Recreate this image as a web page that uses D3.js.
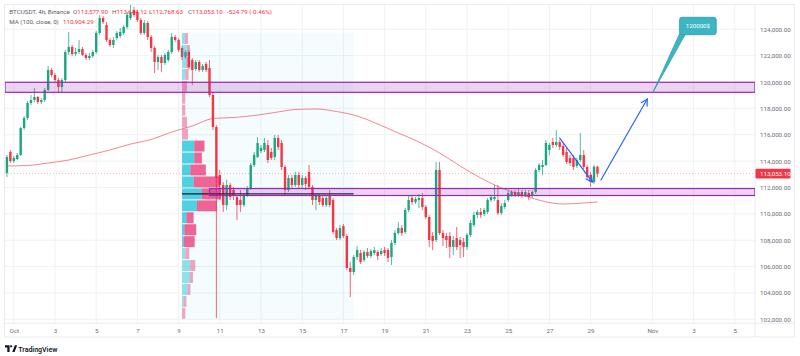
<!DOCTYPE html>
<html><head><meta charset="utf-8">
<script src="https://cdn.jsdelivr.net/npm/d3@7"></script>
<style>
html,body{margin:0;padding:0;background:#fff;}
svg{display:block;font-family:Roboto,"Noto Sans",sans-serif;}
</style></head><body>
<svg id="chart" width="800" height="356"></svg>
<script>
// ---------------- DATA ----------------
const firstBar = "2025-09-30T16:00:00Z";
const barHours = 4;
const opens = [113098,114691,114008,114160,114464,116512,117270,118409,118636,118864,
118484,118636,119395,120912,120533,120153,119622,120153,122278,122657,
122126,122278,122506,122050,121823,121974,122278,123719,124857,124326,
123188,122809,123340,123492,123719,124175,124857,125464,125313,124706,
123719,124478,123416,122581,121519,121899,121443,121671,122278,123416,
123188,122581,121899,122278,121671,120988,121519,120912,121367,121064,
119016,116588,112946,112187,110670,112187,111808,111277,111049,110670,
111428,111960,113705,114312,114767,114843,115222,114691,114312,115753,
115374,113553,111808,112718,112187,112946,112187,112718,113174,112036,
111049,111353,111201,110670,111353,111049,108773,108166,109077,108318,
105890,105587,106725,107028,106497,107104,106801,107028,107104,106952,
107256,107256,106725,107787,108546,108925,108621,110290,111201,110897,
111049,111201,110518,109759,108318,108014,113325,108546,108318,108318,
107483,108166,108014,107863,107483,108394,109152,109911,110139,109987,
110139,111049,111125,111049,110063,110518,111049,111428,111656,111428,
111656,111428,111580,111353,111656,113325,113553,113705,114843,115450,
115222,115450,115146,114691,114236,114236,113629,114084,114464,113553,
112946,112415,113577.9];
const highs = [114464,114843,114388,114615,116588,117422,118560,119016,119547,118940,
118788,119547,121216,121064,120685,120305,120305,122430,123795,122809,
122581,123188,122657,122202,122202,122430,123871,125085,125009,124554,
123340,123416,123871,124099,124326,125313,125844,125692,125464,124857,
124706,124630,123568,122733,122050,122050,122202,122430,123719,123568,
123340,122733,122430,122430,121823,121671,121671,121367,121519,121671,
119167,116740,113325,112415,112567,112339,112036,111428,111808,111580,
112112,113857,114691,115829,115222,115753,115601,114995,115981,115981,
115601,113705,112946,112946,113174,113174,112946,112870,113705,112187,
111580,111504,111353,111353,111808,111201,108925,109152,109228,108470,
106345,106876,107559,107256,107256,107408,107332,107483,107256,107408,
107483,107408,108014,108773,109380,109152,110442,111353,111428,111277,
111504,111580,110670,109911,108621,113932,113932,108773,108546,108621,
108318,109001,108242,108166,108546,109532,110139,110290,110442,110442,
111201,111428,112187,112187,110822,111049,111732,111808,111808,111884,
111808,111808,111808,111808,113477,113857,114084,115601,115374,115753,
116360,115601,115374,114995,114464,114464,114236,116133,114843,113705,
113174,113705,113644.12];
const lows = [112794,113857,113857,114084,114388,116360,117119,118257,118484,118333,
118333,118484,119319,120381,120002,119243,119243,120002,122050,121974,
121974,122126,121974,121671,121671,121823,122126,123568,124402,123037,
122657,122581,123188,123340,123568,124023,124706,124933,124554,123568,
123568,123188,122278,120685,120912,120761,121291,121519,122126,123037,
122278,121671,121747,120988,119774,120837,120761,120761,120761,118864,
116360,102096,111049,110139,110290,111049,111049,109532,110139,110518,
111277,111808,113553,114236,114615,114691,113857,114084,114084,114843,
113325,111428,111656,111960,112036,111960,111960,111808,111884,110670,
110290,110670,110518,110518,110518,108470,108014,108014,108166,105738,
103690,105359,106497,106194,106345,106649,106649,106876,106497,106801,
106801,106345,106118,107635,108394,108318,108470,110139,110670,110746,
110442,110290,109607,107483,107256,107863,108394,107559,107408,106649,
106876,107256,106649,106725,107256,108242,109001,109684,109684,109835,
109987,110897,110973,109911,109911,110366,110897,111277,111277,111277,
111201,111277,111049,111201,111504,113174,112946,113629,114464,114995,
115071,114843,114312,113781,113629,113325,113477,113932,113401,112642,
112036,112263,112768.63];
const closes = [114312,114008,114236,114464,116512,117270,118409,118636,118864,118484,
118636,119395,120912,120533,120153,119622,120153,122278,122657,122126,
122278,122506,122050,121823,121974,122278,123719,124857,124554,123188,
122809,123188,123719,123795,124175,125085,125313,125085,124706,123719,
124478,123416,122581,121519,121899,121443,122050,122278,123416,123188,
122430,121899,122278,121140,120912,121519,120912,121216,120912,119016,
116588,112718,112187,110670,112187,111277,111428,110670,110670,111428,
111960,113705,114464,115374,114995,115374,114084,114236,115753,115071,
113553,111808,112718,112187,112946,112187,112718,112263,112036,111049,
111353,110897,110670,111201,110670,108621,108166,108925,108318,105890,
105587,106725,107256,106345,107104,106801,107180,107256,106801,107180,
107028,106649,107787,108546,108925,108546,110290,111049,110897,111125,
111201,110518,109759,108014,107939,113325,108546,108166,108014,107483,
108014,107483,107635,107483,108394,109304,109911,110139,109911,110290,
111049,111277,111277,110063,110594,110822,111580,111656,111428,111656,
111353,111656,111277,111656,113325,113705,113705,115374,115222,115222,
115450,115071,114464,113932,113857,113553,114084,114464,113553,112794,
112415,113578,113053.1];

// MA(100, close) at daily points
const maDates = ["2025-09-30T16:00Z","2025-10-01T16:00Z","2025-10-02T16:00Z","2025-10-03T16:00Z","2025-10-04T16:00Z",
"2025-10-05T16:00Z","2025-10-06T16:00Z","2025-10-07T16:00Z","2025-10-08T16:00Z","2025-10-09T16:00Z",
"2025-10-10T16:00Z","2025-10-11T16:00Z","2025-10-12T16:00Z","2025-10-13T16:00Z","2025-10-14T16:00Z",
"2025-10-15T16:00Z","2025-10-16T16:00Z","2025-10-17T16:00Z","2025-10-18T16:00Z","2025-10-19T16:00Z",
"2025-10-20T16:00Z","2025-10-21T16:00Z","2025-10-22T16:00Z","2025-10-23T16:00Z","2025-10-24T16:00Z",
"2025-10-25T16:00Z","2025-10-26T16:00Z","2025-10-27T16:00Z","2025-10-28T16:00Z","2025-10-29T08:00Z"];
const maValues = [113629,113667,113857,114084,114464,114843,115298,115640,116208,116663,
117232,117308,117460,117688,117915,117953,117763,117422,116815,116132,
115450,114615,113629,112718,111960,111428,110973,110745,110822,110904.29];

const priceTicks = [102000,104000,106000,108000,110000,112000,114000,116000,118000,120000,122000,124000];
const dateTicks = ["2025-10-01","2025-10-03","2025-10-05","2025-10-07","2025-10-09","2025-10-11","2025-10-13",
"2025-10-15","2025-10-17","2025-10-19","2025-10-21","2025-10-23","2025-10-25","2025-10-27","2025-10-29",
"2025-11-01","2025-11-03","2025-11-05"];
const monthNames = ["Jan","Feb","Mar","Apr","May","Jun","Jul","Aug","Sep","Oct","Nov","Dec"];

// fixed range volume profile (rows bottom -> top)
const profileFrom = "2025-10-09T04:00Z", profileTo = "2025-10-17T12:00Z";
const profileLow = 102000, profileHigh = 123750;
const profileUp =   [0,1.7,5.7,7.7,8.3,3.3,1.7,2.3,4.3,15,20,11.7,8.3,12.3,12.3,0,0,0,0,0,3.3,4,5,3];
const profileDown = [3.3,2.7,2.7,3.3,5,4,11,12,7.3,20,19.3,26.5,15.7,7.7,10.3,6,5,3.3,3.3,5,3.3,4,3,3];
const valueArea = [6,14];

// drawings
const zones = [{low:119220, high:119980, from:null},{low:111390, high:111920, from:"2025-10-10T12:00Z"}];
const arrows = [
  {from:["2025-10-27T12:00Z",115750], to:["2025-10-29T02:00Z",112420]},
  {from:["2025-10-29T12:00Z",112570], to:["2025-10-31T18:00Z",118710]}];
const callout = {anchor:["2025-11-01T01:00Z",119270], at:["2025-11-03T05:00Z",124250], text:"120000$"};
const lastPrice = 113053.10;
const legend1 = [["BTCUSDT, 4h, Binance","",9.3],["O","113,577.90",73],["H","113,644.12",112],["L","112,768.63",149],["C","113,053.10",188],["","-524.79 (-0.46%)",227]];
const legend2 = [["MA (100, close, 0)","",9.3],["","110,904.29",63]];

// ---------------- CHART ----------------
const up="#1aa67f", down="#f23645";
const P={left:5,right:755,top:4.7,bottom:323.3};
const svg=d3.select("#chart");
const x=d3.scaleUtc().domain([new Date(Date.UTC(2025,9,1)),new Date(Date.UTC(2025,10,1))]).range([13.8,652.4]);
const y=d3.scaleLinear().domain([102000,124000]).range([319.3,29.3]);
const t0=Date.parse(firstBar);
const bars=opens.map((o,i)=>({t:new Date(t0+i*barHours*3600e3),o,h:highs[i],l:lows[i],c:closes[i]}));
const D=s=>new Date(s);

svg.append("rect").attr("width",800).attr("height",356).attr("fill","#fff");
svg.append("defs").append("clipPath").attr("id","clip").append("rect")
  .attr("x",P.left).attr("y",P.top).attr("width",P.right-P.left).attr("height",P.bottom-P.top);

// grid
const grid=svg.append("g").attr("stroke","#f0f1f4").attr("stroke-width",1);
priceTicks.forEach(p=>grid.append("line").attr("x1",P.left).attr("x2",P.right).attr("y1",y(p)).attr("y2",y(p)));
dateTicks.forEach(d=>grid.append("line").attr("x1",x(D(d+"T00:00Z"))).attr("x2",x(D(d+"T00:00Z"))).attr("y1",P.top).attr("y2",P.bottom));

// frame
svg.append("rect").attr("x",4.5).attr("y",4.5).attr("width",790).attr("height",332.5).attr("fill","none").attr("stroke","#e9ebf0");
svg.append("line").attr("x1",4.5).attr("x2",794.5).attr("y1",P.bottom).attr("y2",P.bottom).attr("stroke","#e9ebf0");
svg.append("line").attr("x1",P.right).attr("x2",P.right).attr("y1",4.5).attr("y2",337).attr("stroke","#e9ebf0");

const plot=svg.append("g").attr("clip-path","url(#clip)");

// profile background
const px0=x(D(profileFrom)), px1=x(D(profileTo));
plot.append("rect").attr("x",px0).attr("y",y(profileHigh)).attr("width",px1-px0).attr("height",y(profileLow)-y(profileHigh))
  .attr("fill","rgba(0,188,212,0.045)");

// current price dotted line
plot.append("line").attr("x1",P.left).attr("x2",P.right).attr("y1",y(lastPrice)).attr("y2",y(lastPrice))
  .attr("stroke","#f23645").attr("stroke-opacity",0.35).attr("stroke-dasharray","1,2");

// candles
const cg=plot.append("g");
bars.forEach(b=>{
  const col=b.c>=b.o?up:down, cx=x(b.t);
  cg.append("line").attr("x1",cx).attr("x2",cx).attr("y1",y(b.h)).attr("y2",y(b.l)).attr("stroke",col).attr("stroke-opacity",0.75).attr("stroke-width",1);
  const y1=y(Math.max(b.o,b.c)), y2=y(Math.min(b.o,b.c));
  cg.append("rect").attr("x",cx-1.2).attr("width",2.4).attr("y",y1).attr("height",Math.max(0.8,y2-y1)).attr("fill",col);
});

// MA line
plot.append("path").datum(maDates.map((d,i)=>[D(d),maValues[i]]))
  .attr("d",d3.line().x(d=>x(d[0])).y(d=>y(d[1])).curve(d3.curveMonotoneX))
  .attr("fill","none").attr("stroke","#f23645").attr("stroke-opacity",0.6).attr("stroke-width",1);

// volume profile rows
const nRows=profileUp.length, step=(profileHigh-profileLow)/nRows;
const totals=profileUp.map((u,i)=>u+profileDown[i]);
const vx=d3.scaleLinear().domain([0,d3.max(totals)]).range([0,39]);
const pg=plot.append("g");
profileUp.forEach((u,i)=>{
  const inVA=i>=valueArea[0]&&i<=valueArea[1];
  const top=y(profileLow+(i+1)*step)+0.5, h=y(profileLow+i*step)-y(profileLow+(i+1)*step)-1;
  pg.append("rect").attr("x",px0).attr("y",top).attr("width",vx(u)).attr("height",h).attr("fill",inVA?"rgba(0,188,212,0.68)":"rgba(0,188,212,0.42)");
  pg.append("rect").attr("x",px0+vx(u)).attr("y",top).attr("width",vx(profileDown[i])).attr("height",h).attr("fill",inVA?"rgba(233,30,99,0.68)":"rgba(233,30,99,0.4)");
});
const poc=totals.indexOf(d3.max(totals));
plot.append("line").attr("x1",px0).attr("x2",px1).attr("y1",y(profileLow+(poc+0.5)*step)).attr("y2",y(profileLow+(poc+0.5)*step))
  .attr("stroke","#1b1b2b").attr("stroke-width",1.3);

// zones
zones.forEach(z=>{
  const zx=z.from?x(D(z.from)):P.left;
  plot.append("rect").attr("x",zx).attr("y",y(z.high)).attr("width",P.right-zx).attr("height",y(z.low)-y(z.high))
    .attr("fill","rgba(156,39,176,0.2)").attr("stroke","#9c27b0").attr("stroke-width",1.2);
});

// arrows
arrows.forEach(a=>{
  const x1=x(D(a.from[0])),y1=y(a.from[1]),x2=x(D(a.to[0])),y2=y(a.to[1]);
  const ang=Math.atan2(y2-y1,x2-x1), L=7, s=0.5;
  const g=plot.append("g").attr("stroke","#2962ff").attr("stroke-width",1.2).attr("fill","none").attr("stroke-linecap","round");
  g.append("line").attr("x1",x1).attr("y1",y1).attr("x2",x2).attr("y2",y2);
  g.append("path").attr("d",`M${x2-L*Math.cos(ang-s)},${y2-L*Math.sin(ang-s)}L${x2},${y2}L${x2-L*Math.cos(ang+s)},${y2-L*Math.sin(ang+s)}`);
});

// callout
{
  const ax=x(D(callout.anchor[0])), ay=y(callout.anchor[1]);
  const cx=x(D(callout.at[0])), cy=y(callout.at[1]);
  const bw=36.7,bh=17.4,bx=cx-bw/2,by=cy-bh/2;
  const g=plot.append("g");
  g.append("path").attr("d",`M${ax},${ay}L${bx+0.5},${by+bh-2}L${bx+5.5},${by+bh}Z`).attr("fill","#3db5c3").attr("stroke","#2a9fae").attr("stroke-width",0.8);
  g.append("rect").attr("x",bx).attr("y",by).attr("width",bw).attr("height",bh).attr("rx",2.5).attr("fill","#3db5c3").attr("stroke","#2a9fae").attr("stroke-width",0.8);
  g.append("text").attr("x",cx).attr("y",cy).attr("dy","0.35em").attr("text-anchor","middle").attr("fill","#fff").attr("font-size",6.2).text(callout.text);
}

// axes
const ya=svg.append("g").attr("transform",`translate(${P.right},0)`)
  .call(d3.axisRight(y).tickValues(priceTicks).tickFormat(d3.format(",.2f")).tickSize(0).tickPadding(5));
ya.select(".domain").remove();
ya.selectAll("text").attr("font-size",6.2).attr("fill","#6a6d78").attr("font-family","Roboto");
const xa=svg.append("g").attr("transform",`translate(0,${P.bottom})`)
  .call(d3.axisBottom(x).tickValues(dateTicks.map(d=>D(d+"T00:00Z"))).tickSize(0).tickPadding(5)
    .tickFormat(d=>d.getUTCDate()===1?monthNames[d.getUTCMonth()]:String(d.getUTCDate())));
xa.select(".domain").remove();
xa.selectAll("text").attr("font-size",6.2).attr("fill","#6a6d78").attr("font-family","Roboto");

// last price label
const ly=y(lastPrice);
svg.append("rect").attr("x",755.5).attr("y",ly-4.8).attr("width",35).attr("height",9.6).attr("fill","#f23645").attr("rx",1);
svg.append("text").attr("x",760).attr("y",ly).attr("dy","0.35em").attr("font-size",6.2).attr("fill","#fff").text(d3.format(",.2f")(lastPrice));

// legend
const lg=svg.append("g").attr("font-size",6.2);
legend1.forEach(([a,b,lx])=>{const t=lg.append("text").attr("x",lx).attr("y",14.3);
  if(a) t.append("tspan").attr("fill","#5d606b").text(a);
  if(b) t.append("tspan").attr("fill","#f23645").text(b);});
legend2.forEach(([a,b,lx])=>{const t=lg.append("text").attr("x",lx).attr("y",24);
  if(a) t.append("tspan").attr("fill","#5d606b").text(a);
  if(b) t.append("tspan").attr("fill","#f23645").text(b);});

// TradingView logo
const logo=svg.append("g").attr("fill","#131722");
logo.append("path").attr("d","M5,345.2H9.6V352H7.3V347.4H5Z");
logo.append("circle").attr("cx",11.2).attr("cy",346.3).attr("r",1.15);
logo.append("path").attr("d","M12.2,352L14.8,345.2H17.2L14.6,352Z");
svg.append("text").attr("x",18.2).attr("y",351.6).attr("font-size",7).attr("font-weight",600).attr("fill","#131722").text("TradingView");
</script>
</body></html>
